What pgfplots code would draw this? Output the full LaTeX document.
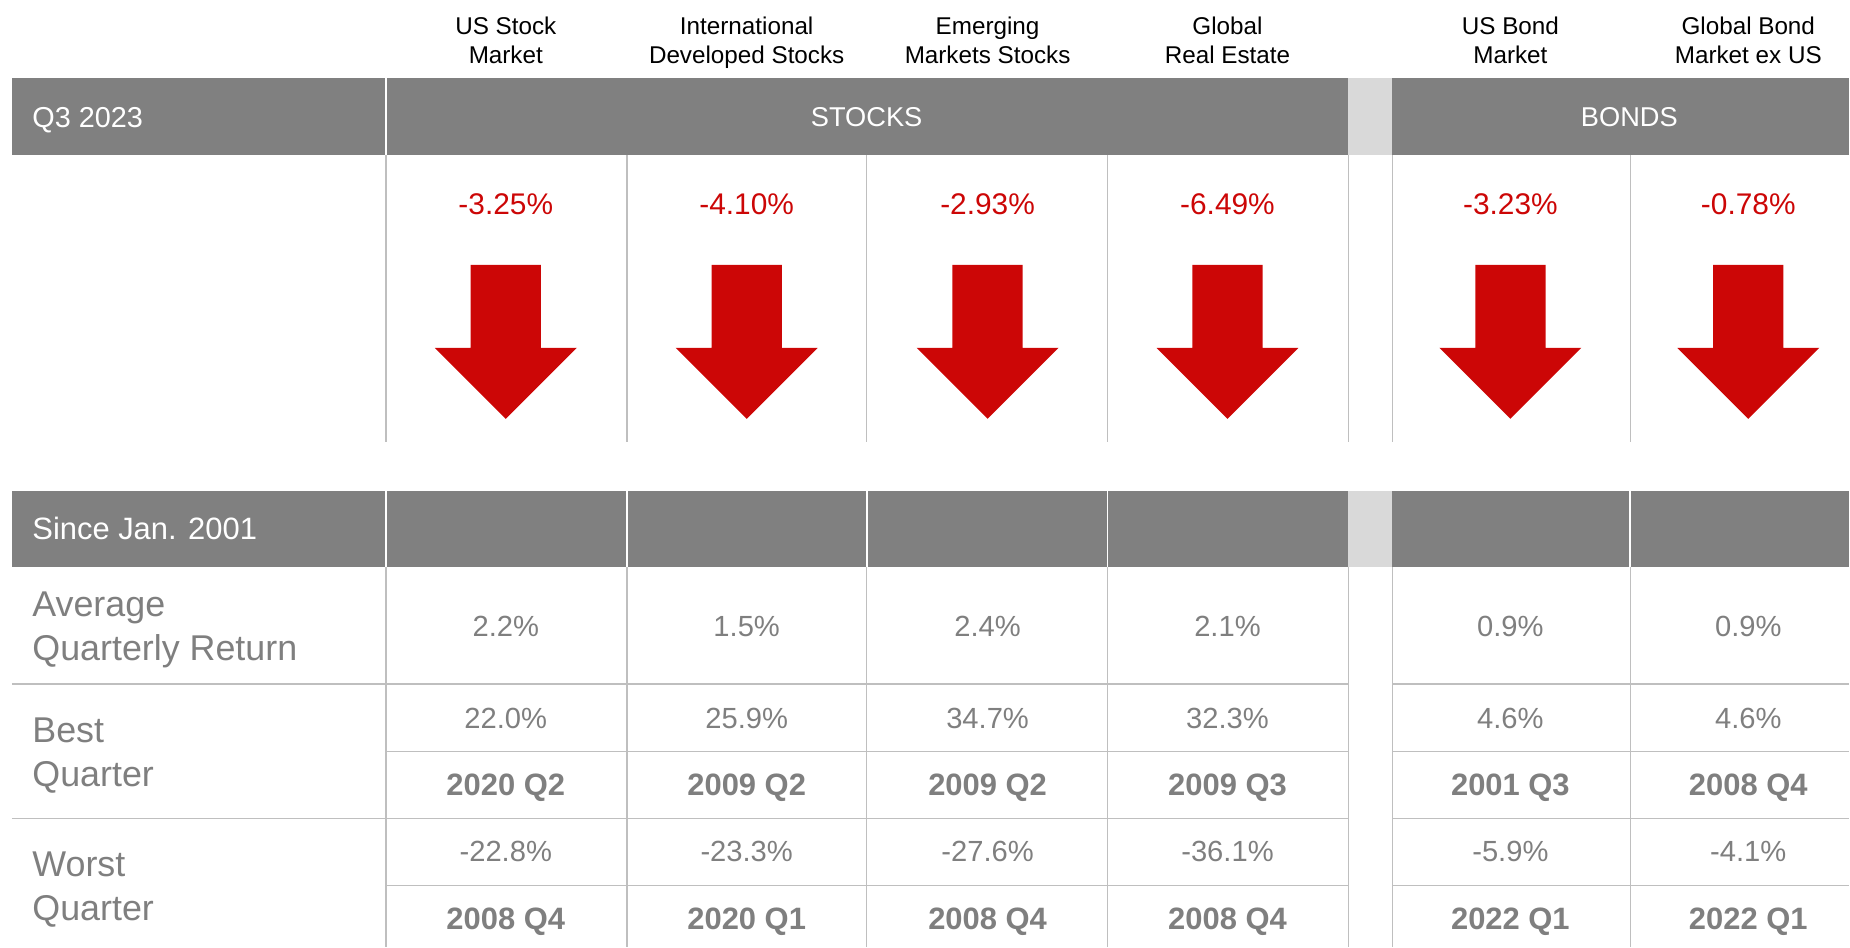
\documentclass[border=0pt]{standalone}
\usepackage{pgfplots}
\pgfplotsset{compat=1.18}
\usepackage{pgfplotstable}
\usepackage{fontspec}
\setmainfont{Liberation Sans}
\definecolor{band}{RGB}{128,128,128}
\definecolor{gap}{RGB}{217,217,217}
\definecolor{rule}{RGB}{191,191,191}
\definecolor{txt}{RGB}{127,127,127}
\definecolor{down}{RGB}{204,6,6}

% down arrow, drawn at the shoulder line (1px = 0.2845pt)
\pgfdeclareplotmark{bigdown}{%
  \pgfpathmoveto{\pgfpoint{-10pt}{23.6pt}}%
  \pgfpathlineto{\pgfpoint{10pt}{23.6pt}}%
  \pgfpathlineto{\pgfpoint{10pt}{0pt}}%
  \pgfpathlineto{\pgfpoint{20.2pt}{0pt}}%
  \pgfpathlineto{\pgfpoint{0pt}{-20.2pt}}%
  \pgfpathlineto{\pgfpoint{-20.2pt}{0pt}}%
  \pgfpathlineto{\pgfpoint{-10pt}{0pt}}%
  \pgfpathclose
  \pgfusepathqfill}

\pgfplotstableread[col sep=comma]{
x,q3,avg,best,bestq,worst,worstq
506,-3.25,2.2,22.0,2020 Q2,-22.8,2008 Q4
747,-4.10,1.5,25.9,2009 Q2,-23.3,2020 Q1
988,-2.93,2.4,34.7,2009 Q2,-27.6,2008 Q4
1228,-6.49,2.1,32.3,2009 Q3,-36.1,2008 Q4
1511,-3.23,0.9,4.6,2001 Q3,-5.9,2022 Q1
1749,-0.78,0.9,4.6,2008 Q4,-4.1,2022 Q1
}\returns

\pgfkeys{/pgf/number format/assume math mode=true}
\newcommand{\pct}[1]{\pgfmathprintnumber[fixed,fixed zerofill,precision=#1]{\pgfplotspointmeta}\%}

\begin{document}
\begin{tikzpicture}
\begin{axis}[hide axis, scale only axis, width=18.5cm, height=9.48cm,
  xmin=0, xmax=1850, ymin=0, ymax=948, y dir=reverse, clip=false,
  every node near coord/.append style={anchor=center, text=txt},
  valnode/.style={draw=none, mark=none, point meta=explicit,
    every node near coord/.append style={font=\fontsize{8.3}{10}\selectfont}},
  qnode/.style={draw=none, mark=none, point meta=explicit symbolic,
    nodes near coords,
    every node near coord/.append style={text depth=0pt, font=\fontsize{8.8}{10}\selectfont\bfseries}}]

% full canvas
\path (0,0) rectangle (1850,947);

% header bands
\fill[band] (12,78) rectangle (1850,155);
\fill[band] (12,491) rectangle (1850,567);
\fill[gap] (1349,78) rectangle (1393,155);
\fill[gap] (1349,491) rectangle (1393,567);
\draw[white, line width=0.5pt] (386,78) -- (386,155);
\pgfplotsinvokeforeach{386,627,867,1108,1631}{
  \draw[white, line width=0.5pt] (#1,491) -- (#1,567);
}

% grid lines
\pgfplotsinvokeforeach{386,627,867,1108,1349,1393,1631}{
  \draw[rule, line width=0.45pt] (#1,155) -- (#1,442);
  \draw[rule, line width=0.45pt] (#1,567) -- (#1,947);
}
\pgfplotsinvokeforeach{684,819}{
  \draw[rule, line width=0.45pt] (12,#1) -- (1349,#1);
  \draw[rule, line width=0.45pt] (1393,#1) -- (1850,#1);
}
\pgfplotsinvokeforeach{752,886}{
  \draw[rule, line width=0.45pt] (386,#1) -- (1349,#1);
  \draw[rule, line width=0.45pt] (1393,#1) -- (1850,#1);
}

% column headings
\begin{scope}[every node/.style={align=center, text depth=0pt, font=\fontsize{6.9}{8.25}\selectfont}]
\node at (506,40) {US Stock\\Market};
\node at (747,40) {International\\Developed Stocks};
\node at (988,40) {Emerging\\Markets Stocks};
\node at (1228,40) {Global\\Real Estate};
\node at (1511,40) {US Bond\\Market};
\node at (1749,40) {Global Bond\\Market ex US};
\end{scope}

\node[anchor=west, text depth=0pt, text=white, font=\fontsize{8.2}{10}\selectfont] at (20,117) {Q3 2023};
\node[text=white, font=\fontsize{7.75}{10}\selectfont] at (867,117) {STOCKS};
\node[text=white, font=\fontsize{7.75}{10}\selectfont] at (1630,117) {BONDS};
\node[anchor=west, text=white, font=\fontsize{8.8}{10}\selectfont] at (20,529) {Since Jan. 2001};

\begin{scope}[every node/.style={anchor=west, align=left, text=txt, font=\fontsize{10.2}{12.5}\selectfont}]
\node at (20,630) {Average\\Quarterly Return};
\node at (20,756) {Best\\Quarter};
\node at (20,890) {Worst\\Quarter};
\end{scope}

% Q3 2023 returns
\addplot[only marks, mark=bigdown, color=down] table[x=x, y expr=348] {\returns};
\addplot[draw=none, mark=none, point meta=explicit, nodes near coords={\pct{2}},
  every node near coord/.append style={text=down, font=\fontsize{8.5}{10}\selectfont}]
  table[x=x, y expr=204, meta=q3] {\returns};

% since 2001 table
\addplot[valnode, nodes near coords={\pct{1}}] table[x=x, y expr=627, meta=avg] {\returns};
\addplot[valnode, nodes near coords={\pct{1}}] table[x=x, y expr=719, meta=best] {\returns};
\addplot[qnode] table[x=x, y expr=785, meta=bestq] {\returns};
\addplot[valnode, nodes near coords={\pct{1}}] table[x=x, y expr=852, meta=worst] {\returns};
\addplot[qnode] table[x=x, y expr=919, meta=worstq] {\returns};
\end{axis}
\end{tikzpicture}
\end{document}
